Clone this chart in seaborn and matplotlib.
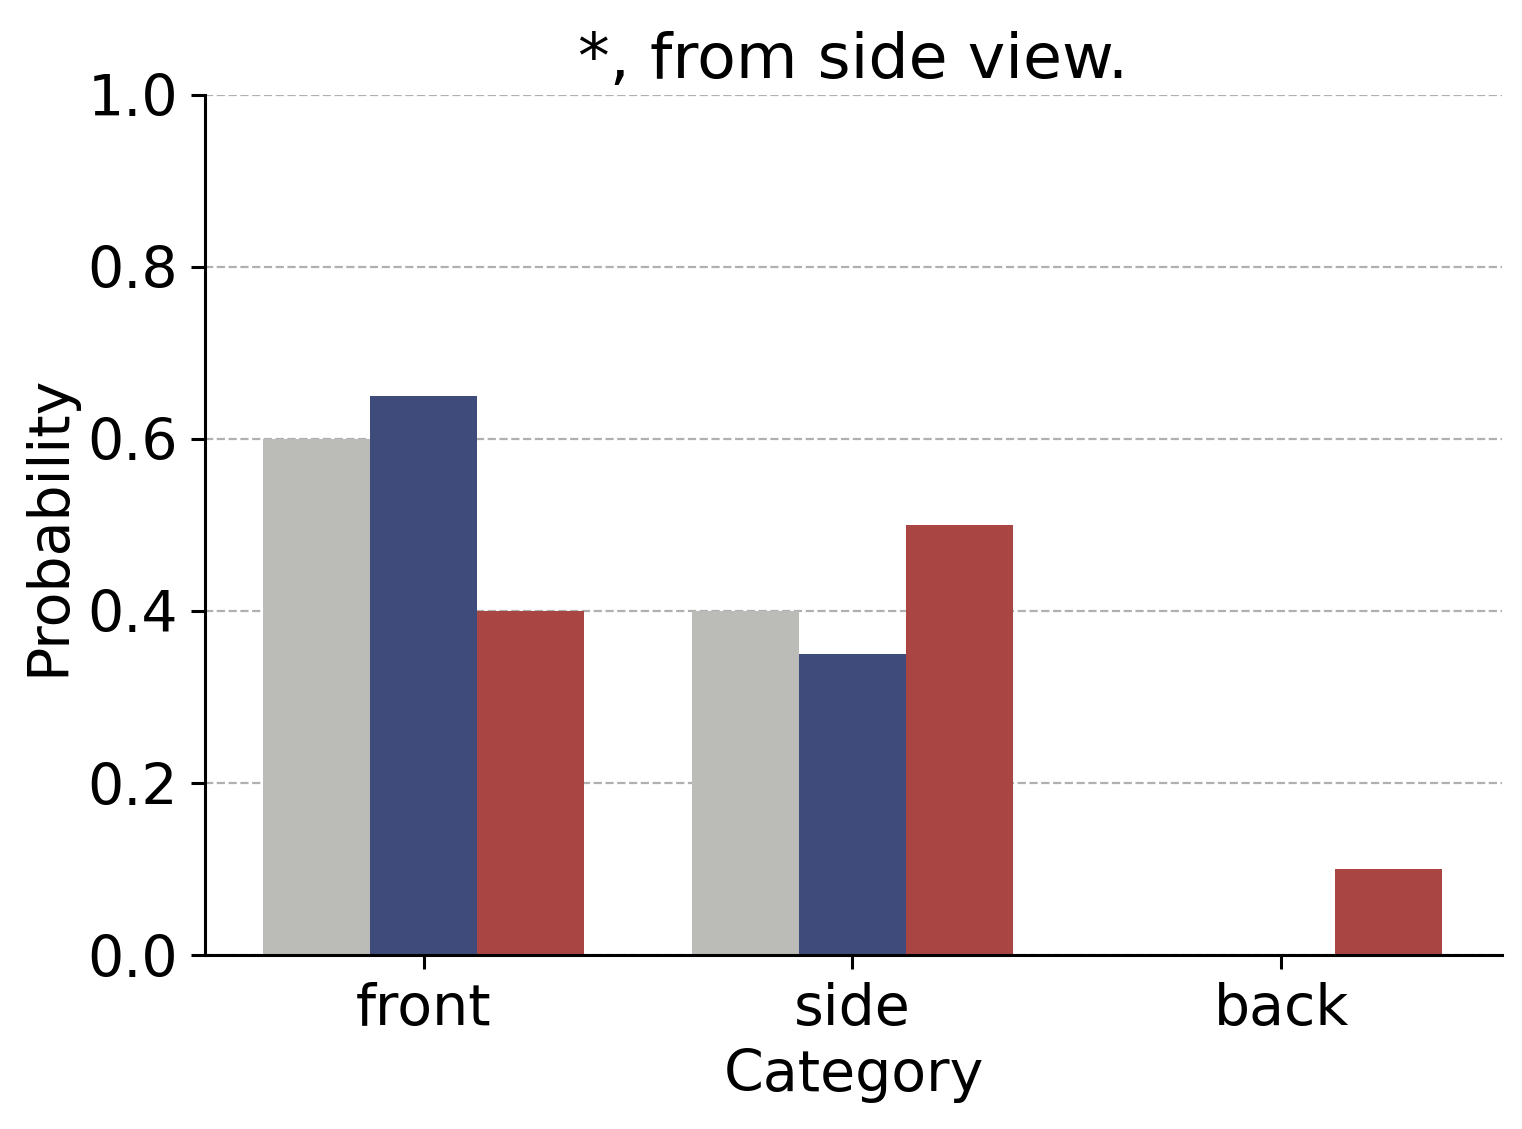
import pandas as pd
import matplotlib.pyplot as plt
import seaborn as sns

# values
categories = ['front', 'side', 'back']
series_names = ['A', 'B', 'C']
series_a = [0.60, 0.40, 0.0]
series_b = [0.65, 0.35, 0.0]
series_c = [0.40, 0.50, 0.10]
colors = ['#BBBCB7', '#3E4B7B', '#A94644']

rows = []
for name, vals in zip(series_names, [series_a, series_b, series_c]):
    for cat, v in zip(categories, vals):
        rows.append({'Category': cat, 'Probability': v, 'series': name})
data = pd.DataFrame(rows)

sns.set_style('ticks', {'axes.edgecolor': 'black', 'text.color': 'black',
                        'xtick.color': 'black', 'ytick.color': 'black',
                        'axes.labelcolor': 'black'})
plt.rcParams['font.family'] = ['DejaVu Sans']
plt.rcParams['font.size'] = 20

fig, ax = plt.subplots(figsize=(7.61, 5.645), dpi=200)
sns.barplot(data=data, x='Category', y='Probability', hue='series',
            order=categories, hue_order=series_names, palette=colors,
            width=0.75, gap=0, linewidth=0, saturation=1, legend=False, ax=ax)

ax.set_xlim(-0.51, 2.515)
ax.set_ylim(0, 1.0)
ax.set_yticks([0, 0.2, 0.4, 0.6, 0.8, 1.0])
ax.yaxis.grid(True, linestyle='--', color='#b0b0b0', linewidth=0.8)
ax.set_axisbelow(True)
sns.despine(ax=ax)
for s in ['left', 'bottom']:
    ax.spines[s].set_linewidth(1.1)
ax.tick_params(labelsize=20.5, colors='black', length=5, width=1.1, pad=4.7)
ax.set_xlabel('Category', fontsize=20.5)
ax.set_ylabel('Probability', fontsize=20.5)
ax.set_title('*, from side view.', fontsize=22.8)

plt.subplots_adjust(left=0.1347, right=0.9869, top=0.9159, bottom=0.1541)
plt.savefig('out.png', dpi=200)
